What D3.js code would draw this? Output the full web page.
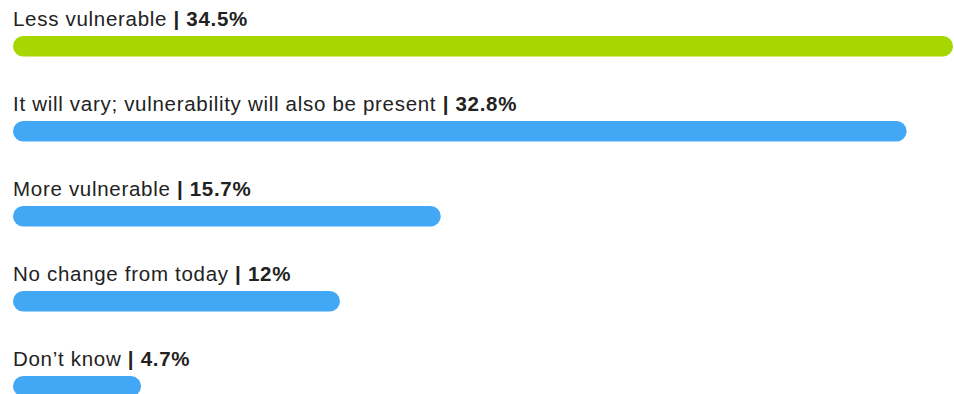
<!DOCTYPE html>
<html>
<head>
<meta charset="utf-8">
<script src="https://cdn.jsdelivr.net/npm/d3@7"></script>
<style>
  body { margin: 0; background: #fff; }
  svg text { font-family: "Liberation Sans", Arial, sans-serif; }
</style>
</head>
<body>
<div id="chart"></div>
<script>
var width = 954, height = 394;

// data
var categories = ["Less vulnerable", "It will vary; vulnerability will also be present",
  "More vulnerable", "No change from today", "Don\u2019t know"];
var values = [34.5, 32.8, 15.7, 12, 4.7];
var valueLabels = ["34.5%", "32.8%", "15.7%", "12%", "4.7%"];
var barColors = ["#a6d700", "#42a7f4", "#42a7f4", "#42a7f4", "#42a7f4"];

var rows = categories.map(function(c, i) {
  return { cat: c, value: values[i], label: valueLabels[i], color: barColors[i] };
});

var svg = d3.select("#chart")
  .append("svg")
  .attr("width", width)
  .attr("height", height);

var xScale = d3.scaleLinear()
  .domain([0, 34.5])
  .range([13, 953]);

var yScale = d3.scaleBand()
  .domain(categories)
  .range([0, 425])
  .paddingInner(0)
  .paddingOuter(0);

var barH = 20.5;
var barOffset = 36; // bar top inside each band

var g = svg.selectAll("g.row")
  .data(rows)
  .enter()
  .append("g")
  .attr("class", "row")
  .attr("transform", d => `translate(0, ${yScale(d.cat)})`);

g.append("rect")
  .attr("x", xScale(0))
  .attr("y", barOffset)
  .attr("width", d => xScale(d.value) - xScale(0))
  .attr("height", barH)
  .attr("rx", barH / 2)
  .attr("fill", d => d.color);

var txt = g.append("text")
  .attr("x", xScale(0))
  .attr("y", barOffset - 10.5)
  .attr("font-size", "20.5px")
  .attr("letter-spacing", "0.7px")
  .attr("fill", "#222");

txt.append("tspan").text(d => d.cat + " ");
txt.append("tspan").attr("font-weight", "bold").text("| ");
txt.append("tspan").attr("font-weight", "bold").text(d => d.label);
</script>
</body>
</html>
